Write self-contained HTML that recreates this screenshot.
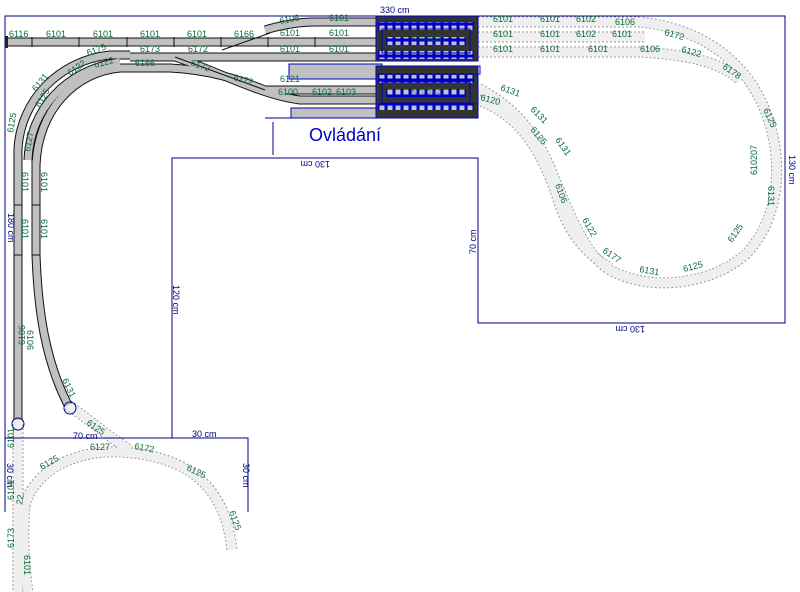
<!DOCTYPE html>
<html><head><meta charset="utf-8"><style>
html,body{margin:0;padding:0;background:#fff;}
svg{display:block;}
.g{font-family:"Liberation Sans",sans-serif;font-size:9px;fill:#0b6b3a;}
.b{font-family:"Liberation Sans",sans-serif;font-size:9px;fill:#000080;}
</style></head><body>
<svg width="800" height="592" viewBox="0 0 800 592" xmlns="http://www.w3.org/2000/svg">
<defs>
<pattern id="sq" x="378" y="0" width="8" height="8" patternUnits="userSpaceOnUse">
<rect width="8" height="8" fill="#0000c0"/><rect x="1.5" y="1.5" width="5" height="5" fill="#c0c0d8"/>
</pattern>
</defs>
<rect width="800" height="592" fill="#fff"/>
<!-- planned light tracks -->
<g fill="none" stroke-linecap="butt">
 <g stroke="#999" stroke-width="11" stroke-dasharray="2,2">
  <path d="M478,22 L640,22 C700,28 745,60 765,110 C785,160 780,220 745,255 C710,285 650,292 610,270 C585,255 570,215 555,180 C540,140 520,110 478,88"/>
  <path d="M478,37 L645,37"/>
  <path d="M478,52 L640,52 C690,55 720,62 740,80"/>
  <path d="M478,100 C520,115 540,150 555,190 C565,225 580,250 610,268"/>
  <path d="M68,405 C90,420 110,438 130,450"/>
  <path d="M25,505 C35,470 75,450 120,452 C180,455 225,480 232,550"/>
  <path d="M18,420 L18,592"/>
  <path d="M25,505 C22,540 25,570 28,592"/>
 </g>
 <g stroke="#efefef" stroke-width="9">
  <path d="M478,22 L640,22 C700,28 745,60 765,110 C785,160 780,220 745,255 C710,285 650,292 610,270 C585,255 570,215 555,180 C540,140 520,110 478,88"/>
  <path d="M478,37 L645,37"/>
  <path d="M478,52 L640,52 C690,55 720,62 740,80"/>
  <path d="M478,100 C520,115 540,150 555,190 C565,225 580,250 610,268"/>
  <path d="M68,405 C90,420 110,438 130,450"/>
  <path d="M25,505 C35,470 75,450 120,452 C180,455 225,480 232,550"/>
  <path d="M18,420 L18,592"/>
  <path d="M25,505 C22,540 25,570 28,592"/>
 </g>
</g>
<!-- board outline -->
<g fill="none" stroke="#000080" stroke-width="1">
 <path d="M5,512 L5,16 L785,16 L785,323 L478,323 L478,158 L172,158 L172,438 L248,438 L248,512"/>
 <path d="M5,438 L172,438"/>
 <path d="M265,118 L385,118"/>
 <path d="M273,155 L273,122"/>
</g>
<!-- real tracks -->
<g fill="none">
 <g stroke="#111" stroke-width="9">
  <path d="M8,42 L380,42"/>
  <path d="M265,30 C285,24 300,22 315,22 L380,22"/>
  <path d="M130,57 L380,57"/>
  <path d="M18,420 L18,150 C20,100 60,60 110,55 L130,55"/>
  <path d="M36,165 C38,110 75,72 120,68 L170,68 C210,70 240,80 265,90 L380,90"/>
  <path d="M36,160 L36,255 C38,310 45,360 68,405"/>
  <path d="M28,160 C30,110 65,70 120,62"/>
  <path d="M175,57 C215,70 260,95 300,100 L380,100"/>
 </g>
 <g stroke="#c0c0c0" stroke-width="7">
  <path d="M8,42 L380,42"/>
  <path d="M265,30 C285,24 300,22 315,22 L380,22"/>
  <path d="M130,57 L380,57"/>
  <path d="M18,420 L18,150 C20,100 60,60 110,55 L130,55"/>
  <path d="M36,165 C38,110 75,72 120,68 L170,68 C210,70 240,80 265,90 L380,90"/>
  <path d="M36,160 L36,255 C38,310 45,360 68,405"/>
  <path d="M28,160 C30,110 65,70 120,62"/>
  <path d="M175,57 C215,70 260,95 300,100 L380,100"/>
 </g>
 <g stroke="#111" stroke-width="1">
  <path d="M222,50 L270,33 M175,57 L265,90"/>
  <path d="M32,37 L32,47 M79,37 L79,47 M127,37 L127,47 M174,37 L174,47 M221,37 L221,47 M268,37 L268,47 M315,37 L315,47"/>
  <path d="M14,205 L22,205 M14,255 L22,255 M32,205 L40,205 M32,255 L40,255"/>
 </g>
</g>
<rect x="5" y="36" width="3" height="12" fill="#222"/>
<circle cx="18" cy="424" r="6" fill="none" stroke="#000080"/>
<circle cx="70" cy="408" r="6" fill="none" stroke="#000080"/>
<!-- grey platforms -->
<rect x="289" y="64" width="93" height="15" fill="#c0c0c0" stroke="#0000c0"/>
<rect x="291" y="108" width="94" height="10" fill="#c0c0c0" stroke="#0000c0"/>
<!-- fiddle yards -->
<g stroke="#0000c0" stroke-width="1">
 <rect x="376" y="16" width="102" height="45" fill="#333"/>
 <rect x="376" y="66" width="102" height="52" fill="#333"/>
</g>
<g fill="url(#sq)">
 <rect x="378" y="22" width="96" height="8"/>
 <rect x="386" y="37" width="80" height="8"/>
 <rect x="378" y="51" width="96" height="8"/>
 <rect x="378" y="75" width="96" height="8"/>
 <rect x="386" y="89" width="80" height="8"/>
 <rect x="378" y="103" width="96" height="7"/>
</g>
<g stroke="#0000c0" fill="none">
 <rect x="382" y="29" width="88" height="24"/>
 <rect x="382" y="82" width="88" height="21"/>
 <rect x="376" y="66" width="104" height="8"/>
</g>
<text x="309" y="141" font-family="Liberation Sans,sans-serif" font-size="18" fill="#0000c0">Ovládání</text>
<text x="411" y="41" class="g" opacity="0.6">Kl 0523</text>
<text x="411" y="94" class="g" opacity="0.6">Kl 0523</text>
<!-- dimension labels -->
<text x="380" y="13" class="b">330 cm</text>
<text class="b" transform="translate(789,155) rotate(90)">130 cm</text>
<text class="b" transform="translate(330,161) rotate(180)">130 cm</text>
<text class="b" transform="translate(645,326) rotate(180)">130 cm</text>
<text class="b" transform="translate(476,254) rotate(-90)">70 cm</text>
<text class="b" transform="translate(173,285) rotate(90)">120 cm</text>
<text class="b" transform="translate(8,213) rotate(90)">180 cm</text>
<text x="73" y="439" class="b">70 cm</text>
<text x="192" y="437" class="b">30 cm</text>
<text class="b" transform="translate(243,463) rotate(90)">30 cm</text>
<text class="b" transform="translate(7,463) rotate(90)">30 cm</text>
<!-- track labels -->
<g class="g">
<text x="9" y="37">6116</text><text x="46" y="37">6101</text><text x="93" y="37">6101</text><text x="140" y="37">6101</text><text x="187" y="37">6101</text><text x="234" y="37">6166</text>
<text x="280" y="24" transform="rotate(-10 280 24)">6106</text><text x="329" y="21">6101</text><text x="329" y="36">6101</text><text x="280" y="36">6101</text><text x="280" y="52">6101</text><text x="329" y="52">6101</text>
<text x="140" y="52">6173</text><text x="188" y="52">6172</text><text x="135" y="66">6166</text><text x="190" y="65" transform="rotate(20 190 65)">6172</text><text x="233" y="80" transform="rotate(15 233 80)">6172</text>
<text x="280" y="82">6121</text><text x="278" y="95">6100</text><text x="312" y="95">6102</text><text x="336" y="95">6103</text>
<text x="88" y="56" transform="rotate(-20 88 56)">6175</text><text x="95" y="68" transform="rotate(-15 95 68)">6122</text><text x="70" y="76" transform="rotate(-35 70 76)">6122</text>
<text x="36" y="92" transform="rotate(-50 36 92)">6131</text><text x="40" y="108" transform="rotate(-60 40 108)">6125</text>
<text x="13" y="133" transform="rotate(-80 13 133)">6125</text><text x="30" y="152" transform="rotate(-80 30 152)">6127</text>
<text transform="translate(22,172) rotate(90)">6101</text><text transform="translate(41,172) rotate(90)">6101</text>
<text transform="translate(22,219) rotate(90)">6101</text><text transform="translate(41,219) rotate(90)">6101</text>
<text transform="translate(25,345) rotate(-90)">6106</text><text transform="translate(27,330) rotate(90)">6106</text>
<text transform="translate(62,380) rotate(65)">6131</text>
<text x="86" y="424" transform="rotate(35 86 424)">6125</text><text x="90" y="450">6127</text><text x="134" y="449" transform="rotate(10 134 449)">6172</text>
<text x="42" y="470" transform="rotate(-30 42 470)">6125</text><text x="186" y="470" transform="rotate(25 186 470)">6125</text><text x="229" y="512" transform="rotate(70 229 512)">6125</text>
<text transform="translate(14,448) rotate(-90)">6101</text><text transform="translate(14,500) rotate(-90)">6101</text><text transform="translate(14,548) rotate(-90)">6173</text><text transform="translate(24,555) rotate(90)">6101</text><text transform="translate(22,505) rotate(-80)">22</text>
<text x="493" y="22">6101</text><text x="540" y="22">6101</text><text x="576" y="22">6102</text><text x="615" y="25">6106</text>
<text x="493" y="37">6101</text><text x="540" y="37">6101</text><text x="576" y="37">6102</text><text x="612" y="37">6101</text>
<text x="493" y="52">6101</text><text x="540" y="52">6101</text><text x="588" y="52">6101</text><text x="640" y="52">6106</text>
<text x="664" y="35" transform="rotate(15 664 35)">6172</text><text x="681" y="52" transform="rotate(15 681 52)">6122</text><text x="722" y="68" transform="rotate(35 722 68)">6178</text><text x="763" y="110" transform="rotate(65 763 110)">6125</text>
<text transform="translate(757,175) rotate(-90)">610207</text><text transform="translate(768,186) rotate(90)">6131</text><text x="732" y="243" transform="rotate(-55 732 243)">6125</text>
<text x="684" y="272" transform="rotate(-15 684 272)">6125</text><text x="639" y="272" transform="rotate(10 639 272)">6131</text><text x="602" y="252" transform="rotate(35 602 252)">6177</text>
<text x="582" y="220" transform="rotate(60 582 220)">6122</text><text x="555" y="185" transform="rotate(70 555 185)">6106</text>
<text x="500" y="90" transform="rotate(20 500 90)">6131</text><text x="530" y="110" transform="rotate(45 530 110)">6131</text><text x="530" y="130" transform="rotate(50 530 130)">6125</text><text x="555" y="140" transform="rotate(55 555 140)">6131</text><text x="480" y="100" transform="rotate(15 480 100)">6120</text>
</g>
</svg>
</body></html>
